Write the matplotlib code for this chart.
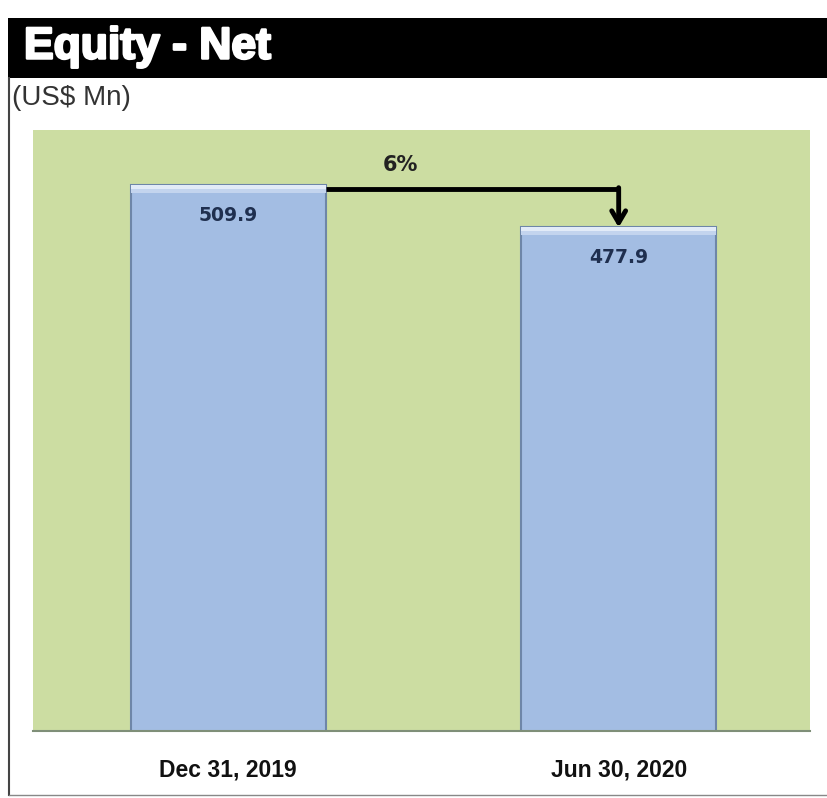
import matplotlib.pyplot as plt
import matplotlib.patheffects as pe
from matplotlib.patches import Rectangle
from matplotlib.lines import Line2D

# equity, US$ Mn
periods = ['Dec 31, 2019', 'Jun 30, 2020']
equity = [509.9, 477.9]
change_label = '6%'

fig = plt.figure(figsize=(8.27, 7.98), dpi=100)
fig.patch.set_facecolor('white')

# black title band
fig.patches.append(Rectangle((8 / 827, 1 - 78 / 798), 1, 60 / 798,
                             transform=fig.transFigure, facecolor='black',
                             edgecolor='none', zorder=0))
fig.text(24 / 827, 1 - 47 / 798, 'Equity - Net', color='white', fontsize=32,
         fontweight='bold', family='Liberation Sans', va='center', ha='left',
         path_effects=[pe.withStroke(linewidth=1.8, foreground='white')])
fig.text(12 / 827, 1 - 98 / 798, '(US$ Mn)', color='#333333', fontsize=20,
         family='Liberation Sans', va='center', ha='left')

# frame lines on the left and bottom
fig.add_artist(Line2D([9 / 827, 9 / 827], [1 - 78 / 798, 1 - 795 / 798],
                      transform=fig.transFigure, color='#444444', lw=1.5))
fig.add_artist(Line2D([9 / 827, 1], [1 - 795 / 798, 1 - 795 / 798],
                      transform=fig.transFigure, color='#888888', lw=1.0))

ax = fig.add_axes([33 / 827, 1 - 731 / 798, 777 / 827, 601 / 798])
ax.set_facecolor('#CCDDA2')

x = list(range(len(periods)))
bars = ax.bar(x, equity, width=0.5, color='#A3BDE3', edgecolor='#6E86A8',
              linewidth=1.5, zorder=2)
# soft bevel along the bar tops
for b in bars:
    cx = b.get_x() + b.get_width() / 2
    top = b.get_height()
    ax.bar(cx, 3, bottom=top - 3, width=b.get_width(), color='#E2EBF8',
           edgecolor='none', zorder=3)
    ax.bar(cx, 3, bottom=top - 6, width=b.get_width(), color='#C3D4EE',
           edgecolor='none', zorder=3)

for xi, v in zip(x, equity):
    ax.annotate(f'{v:.1f}', (xi, v), xytext=(0, -22), textcoords='offset points',
                ha='center', va='center', fontsize=13.5, fontweight='bold',
                color='#1F2F4F', family='DejaVu Sans', zorder=4)

# change bracket from first bar to second
y_line = equity[0] - 3.5
ax.plot([x[0] + 0.25, x[1] + 0.004], [y_line, y_line], color='black', lw=3.5,
        solid_capstyle='butt', zorder=4)
ax.annotate('', xy=(x[1], equity[1]), xytext=(x[1], y_line + 1.3),
            arrowprops=dict(arrowstyle='->,head_width=0.5,head_length=0.85',
                            color='black', lw=3.5, shrinkA=0, shrinkB=0),
            zorder=4)
ax.text(0.442, y_line + 18, change_label, ha='center',
        va='center', fontsize=15, fontweight='bold', color='#222222')

ax.set_xlim(-0.5, 1.49)
ax.set_ylim(100, 551)
ax.set_yticks([])
ax.set_xticks(x)
ax.set_xticklabels(periods, fontsize=16.5, fontweight='bold', color='#111111',
                   family='Liberation Sans')
ax.tick_params(axis='x', length=0, pad=20)
for side in ['top', 'left', 'right']:
    ax.spines[side].set_visible(False)
ax.spines['bottom'].set_color('#7F8F78')
ax.spines['bottom'].set_linewidth(1.5)

fig.savefig('out.png', dpi=100)
